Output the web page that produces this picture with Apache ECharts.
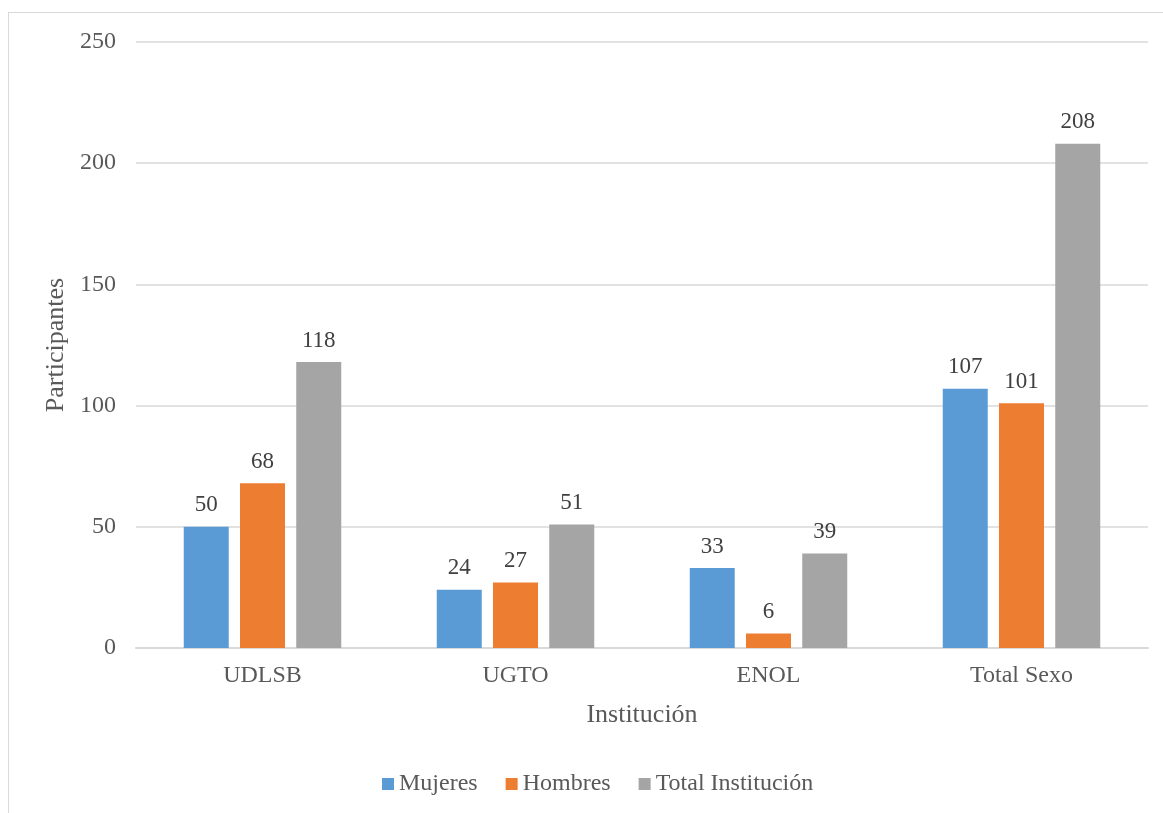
<!DOCTYPE html>
<html>
<head>
<meta charset="utf-8">
<script src="https://cdn.jsdelivr.net/npm/echarts@6/dist/echarts.min.js"></script>
<style>
  html, body { margin: 0; padding: 0; background: #fff; }
  #frame { position: absolute; left: 8px; top: 12px; width: 1200px; height: 850px;
           border-left: 1px solid #d9d9d9; border-top: 1px solid #d9d9d9; }
  #chart { position: absolute; left: 0; top: 0; width: 1163px; height: 813px; }
</style>
</head>
<body>
<div id="frame"></div>
<div id="chart"></div>
<script>
// Participantes por institución y sexo
const categories = ['UDLSB', 'UGTO', 'ENOL', 'Total Sexo']
const mujeres    = [50, 24, 33, 107]
const hombres    = [68, 27, 6, 101]
const totalInst  = [118, 51, 39, 208]

const font = 'Liberation Serif, Times New Roman, serif'
const textColor = '#595959'

const chart = echarts.init(document.getElementById('chart'))

const bar = (name, data, color) => ({
  type: 'bar',
  name,
  data,
  barWidth: 45,
  barGap: '25%',
  itemStyle: { color },
  label: {
    show: true, position: 'top', distance: 10,
    color: '#404040', fontFamily: font, fontSize: 23,
  },
})

chart.setOption({
  backgroundColor: 'transparent',
  animation: false,
  textStyle: { fontFamily: font },
  grid: { left: 136, right: 15, top: 42, bottom: 165 },
  legend: {
    bottom: 12,
    left: 377,
    itemWidth: 12,
    itemHeight: 12,
    itemGap: 28,
    icon: 'rect',
    textStyle: { color: textColor, fontFamily: font, fontSize: 24 },
  },
  xAxis: {
    type: 'category',
    data: categories,
    name: 'Institución',
    nameLocation: 'middle',
    nameGap: 54,
    nameTextStyle: { color: textColor, fontFamily: font, fontSize: 26 },
    axisLine: { lineStyle: { color: '#d9d9d9', width: 2 } },
    axisTick: { show: false },
    axisLabel: { color: textColor, fontFamily: font, fontSize: 24, margin: 16 },
  },
  yAxis: {
    type: 'value',
    min: 0,
    max: 250,
    interval: 50,
    name: 'Participantes',
    nameLocation: 'middle',
    nameGap: 65,
    nameTextStyle: { color: textColor, fontFamily: font, fontSize: 26 },
    axisLine: { show: false },
    axisTick: { show: false },
    axisLabel: { color: textColor, fontFamily: font, fontSize: 24, margin: 20 },
    splitLine: { lineStyle: { color: '#d9d9d9', width: 1.5 } },
  },
  series: [
    bar('Mujeres', mujeres, '#5b9bd5'),
    bar('Hombres', hombres, '#ed7d31'),
    bar('Total Institución', totalInst, '#a5a5a5'),
  ],
})
</script>
</body>
</html>
